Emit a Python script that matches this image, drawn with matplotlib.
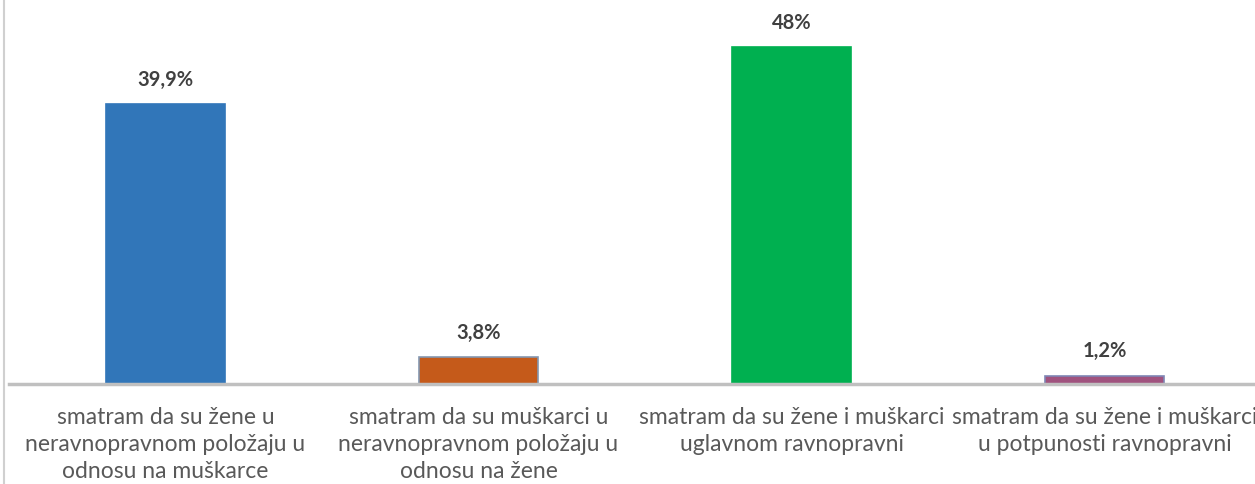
import matplotlib.pyplot as plt
from matplotlib.lines import Line2D

categories = [
    "smatram da su žene u\nneravnopravnom položaju u\nodnosu na muškarce",
    "smatram da su muškarci u\nneravnopravnom položaju u\nodnosu na žene",
    "smatram da su žene i muškarci\nuglavnom ravnopravni",
    "smatram da su žene i muškarci\nu potpunosti ravnopravni",
]
values = [39.9, 3.8, 48.0, 1.2]
value_labels = ["39,9%", "3,8%", "48%", "1,2%"]
colors = ["#3176b9", "#c55a1a", "#00b050", "#a0527e"]
edges = ["#3176b9", "#8497b0", "#00b050", "#7f86b5"]

plt.rcParams['font.family'] = ['Lato', 'DejaVu Sans']

fig = plt.figure(figsize=(12.55, 4.85), dpi=100)
ax = fig.add_axes([9 / 1255, 100 / 485, 1252 / 1255, 351 / 485])

x = range(len(values))
bars = ax.bar(x, values, width=0.38, color=colors, edgecolor=edges, linewidth=1.2, zorder=2)

for b, lab in zip(bars, value_labels):
    ax.annotate(lab, (b.get_x() + b.get_width() / 2, b.get_height()),
                xytext=(0, 11), textcoords="offset points", ha="center", va="bottom",
                fontsize=14.5, fontweight="bold", color="#404040")

ax.set_xlim(-0.5, 3.5)
ax.set_ylim(0, 50)
ax.set_xticks(list(x))
ax.set_xticklabels(categories, fontsize=16.5, color="#595959", linespacing=1.36)
ax.tick_params(axis="x", length=0, pad=16)
ax.set_yticks([])
for s in ["top", "right", "left"]:
    ax.spines[s].set_visible(False)
ax.spines["bottom"].set_color("#c0c0c0")
ax.spines["bottom"].set_linewidth(2.5)

# left border line of the chart area
fig.add_artist(Line2D([3.5 / 1255, 3.5 / 1255], [0, 1], color="#d0d0d0", linewidth=1.5))

fig.savefig("out.png", dpi=100)
